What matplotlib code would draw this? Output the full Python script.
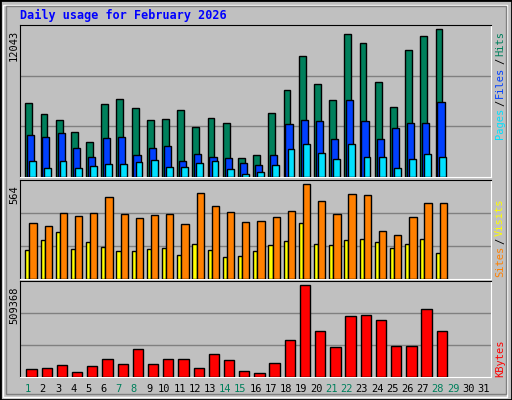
import numpy as np
import matplotlib.pyplot as plt
from matplotlib.patches import Rectangle

days = np.arange(1, 29)
hits = [5994, 5095, 4605, 3624, 2888, 5912, 6321, 5586, 4605, 4686, 5422, 4032, 4768, 4359,
        1580, 1826, 5177, 7057, 9836, 7547, 6239, 11634, 10899, 7711, 5667, 10326, 11471, 12043]
files = [3379, 3215, 3542, 2398, 1662, 3133, 3215, 1826, 2398, 2561, 1335, 1907, 1662, 1580,
         1172, 1008, 1826, 4278, 4605, 4523, 3052, 6239, 4523, 3052, 3951, 4359, 4359, 6076]
pages = [1335, 763, 1335, 763, 926, 1090, 1090, 1253, 1417, 845, 845, 1172, 1335, 681,
         272, 436, 1008, 2316, 2725, 1989, 1499, 2725, 1662, 1662, 763, 1499, 1907, 1662]
sites = [331, 313, 392, 374, 392, 490, 386, 362, 380, 386, 325, 509, 435, 398,
         337, 343, 368, 405, 564, 466, 386, 503, 497, 288, 264, 368, 454, 454]
visits = [172, 233, 282, 178, 221, 190, 166, 166, 178, 184, 141, 208, 172, 129,
          135, 166, 202, 227, 331, 208, 202, 233, 239, 221, 184, 208, 239, 153]
kbytes = [46474, 52052, 68784, 29744, 63206, 102245, 74360, 152438, 74360, 102245, 102245, 52052,
          130130, 96668, 35321, 24167, 79937, 202630, 509368, 252823, 163592, 336478, 342055,
          314170, 169169, 169169, 375517, 252823]
day_labels = [str(d) for d in range(1, 32)]
weekend = [1, 7, 8, 14, 15, 21, 22, 28, 29]

W, H = 512, 400
GRAY = '#C0C0C0'
MONO = 'DejaVu Sans Mono'
fig = plt.figure(figsize=(W / 100, H / 100), dpi=100, facecolor=GRAY)

# bevelled frame
fig.patches.append(Rectangle((0, 0), 1, 1, transform=fig.transFigure, fill=False, ec='black', lw=2))
fig.patches.append(Rectangle((3 / W, 3 / H), 1 - 8 / W, 1 - 8 / H, transform=fig.transFigure,
                             fill=False, ec='white', lw=1))
fig.patches.append(Rectangle((6 / W, 6 / H), 1 - 12 / W, 1 - 12 / H, transform=fig.transFigure,
                             fill=False, ec='#808080', lw=1))

fig.text(20 / W, 1 - 15 / H, 'Daily usage for February 2026', color='#0000FF', family=MONO,
         weight='bold', fontsize=8.5, va='center')


def panel(top, bottom):
    ax = fig.add_axes([20 / W, 1 - bottom / H, 471 / W, (bottom - top) / H])
    ax.set_facecolor(GRAY)
    ax.set_xlim(0.5, 31.5)
    ax.set_xticks([])
    ax.set_yticks([])
    for s in ('top', 'left'):
        ax.spines[s].set_color('black')
    for s in ('bottom', 'right'):
        ax.spines[s].set_color('white')
    return ax


def bars(ax, off, w, vals, color):
    ax.bar(days + off, vals, width=w, align='edge', color=color, edgecolor='black', lw=1, zorder=3)


def grid(ax, top):
    for f in (1 / 3, 2 / 3):
        ax.axhline(top * f, color='#808080', lw=1, zorder=1)


# top panel
ax1 = panel(25, 177)
top1 = 12043 * 152 / 148
ax1.set_ylim(0, top1)
grid(ax1, top1)
bars(ax1, -0.15, 0.45, hits, '#00805C')
bars(ax1, -0.03, 0.47, files, '#0040FF')
bars(ax1, 0.11, 0.45, pages, '#00E0FF')

# middle panel
ax2 = panel(180, 279)
top2 = 564 * 96 / 92
ax2.set_ylim(0, top2)
grid(ax2, top2)
bars(ax2, -0.15, 0.27, visits, '#FFFF00')
bars(ax2, 0.12, 0.48, sites, '#FF8000')

# bottom panel
ax3 = panel(281, 377)
top3 = 509368 * 95 / 91
ax3.set_ylim(0, top3)
grid(ax3, top3)
bars(ax3, -0.08, 0.68, kbytes, '#FF0000')

# max labels
for y, t in [(30, '12043'), (185, '564'), (287, '509368')]:
    fig.text(14 / W, 1 - y / H, t, rotation=90, family=MONO, fontsize=7.5, ha='center', va='top')

renderer = fig.canvas.get_renderer()


# right side legends (bottom to top)
def side(y0, parts):
    y = y0
    for t, c in parts:
        tx = fig.text(500 / W, 1 - y / H, t, rotation=90, family=MONO, fontsize=7.5,
                      color=c, ha='center', va='bottom')
        y -= tx.get_window_extent(renderer).height + 2


side(139, [('Pages', '#00E0FF'), ('/', '#000000'), ('Files', '#0040FF'),
           ('/', '#000000'), ('Hits', '#00805C')])
side(277, [('Sites', '#FF8000'), ('/', '#000000'), ('Visits', '#FFFF00')])
side(377, [('KBytes', '#FF0000')])

# day labels
for i, t in enumerate(day_labels):
    d = i + 1
    x = 20 + (d - 0.5) * 471 / 31
    fig.text(x / W, 1 - 389 / H, t, family=MONO, fontsize=7.5, ha='center', va='center',
             color='#00805C' if d in weekend else 'black')

fig.savefig('out.png', dpi=100, facecolor=GRAY)
